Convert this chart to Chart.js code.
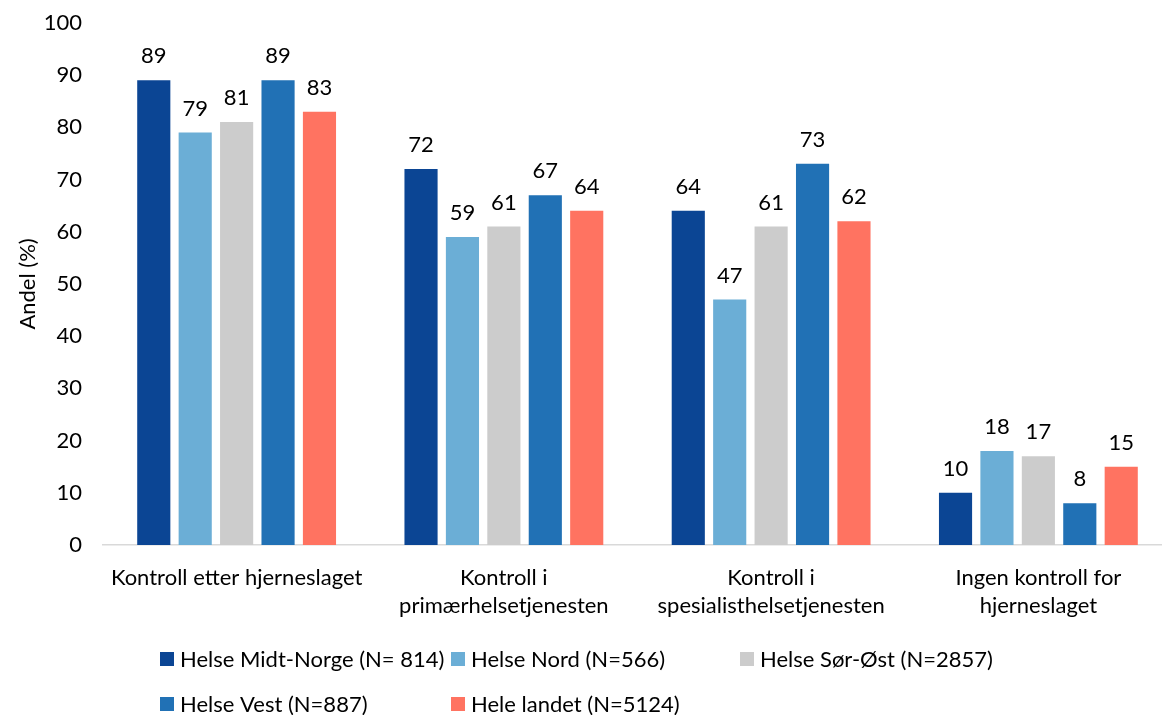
<!DOCTYPE html>
<html>
<head>
<meta charset="utf-8">
<script src="https://cdn.jsdelivr.net/npm/chart.js@4.4.1/dist/chart.umd.min.js"></script>
<style>
  html, body { margin: 0; padding: 0; background: #ffffff; overflow: hidden; }
  #wrap { width: 1162px; height: 715px; overflow: hidden; position: relative; }
  canvas { display: block; }
</style>
</head>
<body>
<div id="wrap"><canvas id="c" width="1172" height="715"></canvas></div>
<script>
const categories = [
  ["Kontroll etter hjerneslaget"],
  ["Kontroll i", "primærhelsetjenesten"],
  ["Kontroll i", "spesialisthelsetjenesten"],
  ["Ingen kontroll for", "hjerneslaget"]
];
const seriesNames = [
  "Helse Midt-Norge (N= 814)",
  "Helse Nord (N=566)",
  "Helse Sør-Øst (N=2857)",
  "Helse Vest (N=887)",
  "Hele landet (N=5124)"
];
const midtNorge = [89, 72, 64, 10];
const nord = [79, 59, 47, 18];
const sorOst = [81, 61, 61, 17];
const vest = [89, 67, 73, 8];
const heleLandet = [83, 64, 62, 15];
const yTicks = [0, 10, 20, 30, 40, 50, 60, 70, 80, 90, 100];
const yTitle = "Andel (%)";

const colors = ["#0B4594", "#6BAED6", "#CCCCCC", "#2171B5", "#FF7361"];
const seriesValues = [midtNorge, nord, sorOst, vest, heleLandet];

const FONT = "Lato, 'Liberation Sans', sans-serif";
const FSIZE = 22;

const valueLabels = {
  id: 'valueLabels',
  afterDatasetsDraw(chart) {
    const ctx = chart.ctx;
    ctx.save();
    ctx.font = FSIZE + "px " + FONT;
    ctx.fillStyle = "#000000";
    ctx.textAlign = "center";
    ctx.textBaseline = "middle";
    chart.data.datasets.forEach((ds, i) => {
      const meta = chart.getDatasetMeta(i);
      meta.data.forEach((bar, j) => {
        ctx.fillText(String(ds.data[j]), bar.x, bar.y - 24);
      });
    });
    ctx.restore();
  }
};

const gridLegend = {
  id: 'gridLegend',
  afterDraw(chart) {
    const ctx = chart.ctx;
    ctx.save();
    ctx.font = FSIZE + "px " + FONT;
    ctx.textBaseline = "middle";
    ctx.textAlign = "left";
    const colX = [160, 451, 740];
    const rowY = [659, 704];
    chart.data.datasets.forEach((ds, i) => {
      const col = i % 3, row = Math.floor(i / 3);
      const x = colX[col], y = rowY[row];
      ctx.fillStyle = ds.backgroundColor;
      ctx.fillRect(x, y - 7, 14, 14);
      ctx.fillStyle = "#000000";
      ctx.fillText(ds.label, x + 20, y + 1);
    });
    ctx.restore();
  }
};

new Chart(document.getElementById('c'), {
  type: 'bar',
  data: {
    labels: categories,
    datasets: seriesNames.map((name, i) => ({
      label: name,
      data: seriesValues[i],
      backgroundColor: colors[i],
      borderWidth: 0,
      barPercentage: 0.8,
      categoryPercentage: 0.775
    }))
  },
  options: {
    responsive: false,
    animation: false,
    layout: { padding: { top: 0, bottom: 90, left: 0, right: 0 } },
    plugins: {
      legend: { display: false },
      tooltip: { enabled: false }
    },
    scales: {
      x: {
        grid: { display: false },
        border: { display: true, color: "#D9D9D9", width: 1.5 },
        ticks: {
          color: "#000000",
          font: { family: FONT, size: FSIZE, lineHeight: 1.28 },
          padding: 11,
          maxRotation: 0,
          autoSkip: false
        },
        afterFit(scale) { scale.height = 80; }
      },
      y: {
        min: 0,
        max: 100,
        afterBuildTicks(scale) { scale.ticks = yTicks.map(v => ({ value: v })); },
        grid: { display: false },
        border: { display: false },
        ticks: {
          color: "#000000",
          font: { family: FONT, size: FSIZE, lineHeight: 0.9 },
          padding: 13
        },
        title: {
          display: true,
          text: yTitle,
          color: "#000000",
          font: { family: FONT, size: FSIZE },
          padding: { top: 15, bottom: 0 }
        },
        afterFit(scale) { scale.width = 103; }
      }
    }
  },
  plugins: [valueLabels, gridLegend]
});
</script>
</body>
</html>
